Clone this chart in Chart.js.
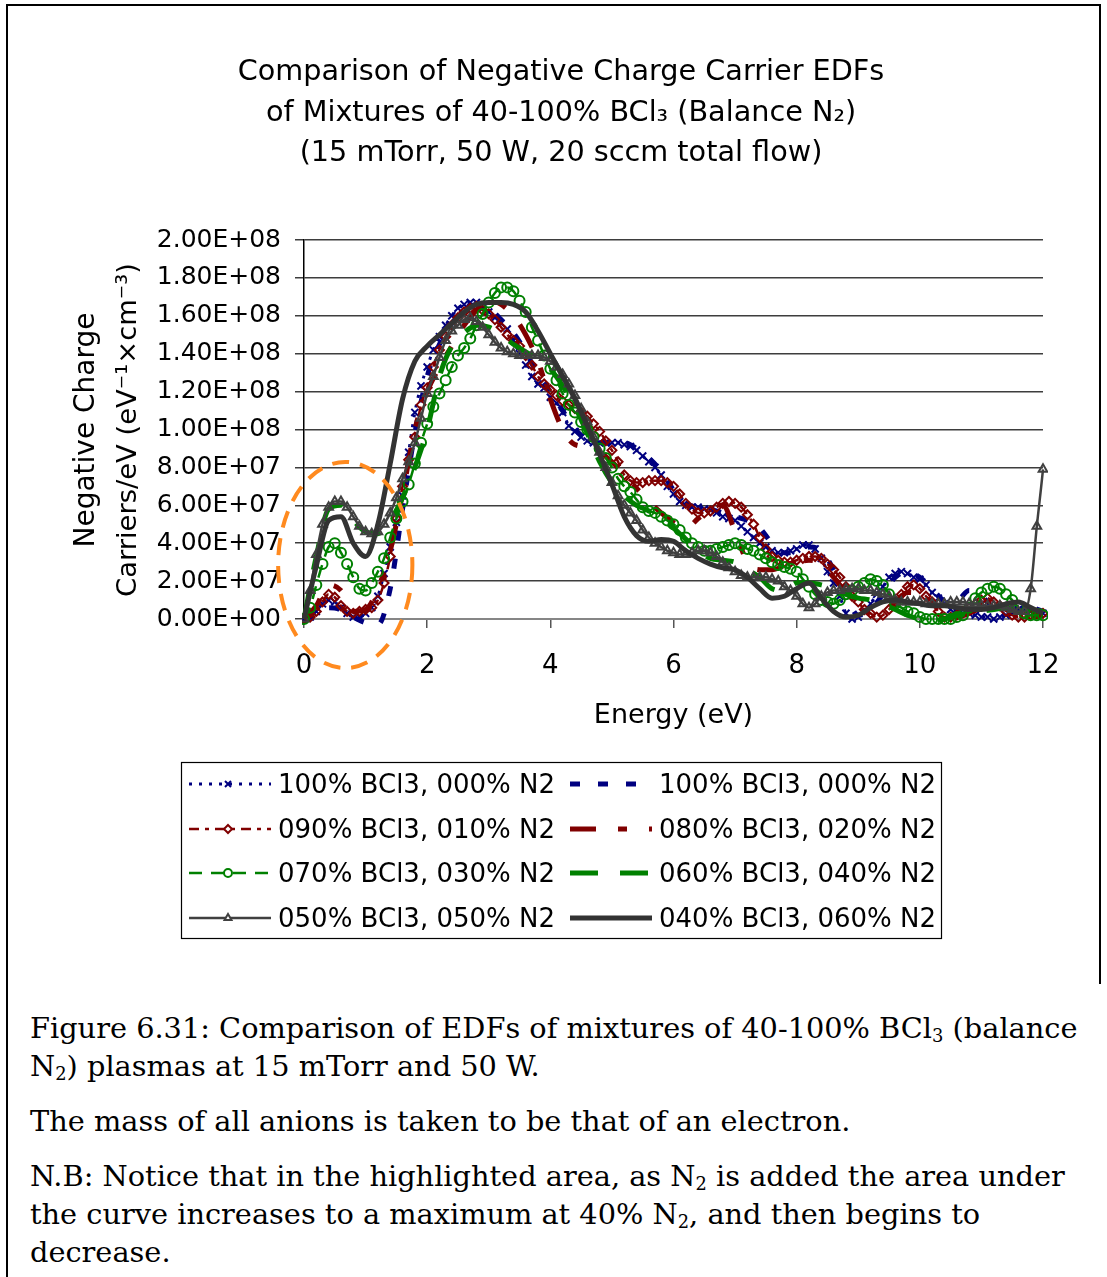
<!DOCTYPE html>
<html>
<head>
<meta charset="utf-8">
<title>EDFs of BCl3 / N2 mixtures</title>
<script src="https://cdn.jsdelivr.net/npm/chart.js@4.4.1/dist/chart.umd.min.js"></script>
<style>
  html, body { margin: 0; padding: 0; background: #fff; }
  #page { position: relative; width: 1107px; height: 1277px; overflow: hidden; background: #fff; }
  .rule { position: absolute; background: #000; }
  #edfChart { position: absolute; left: 0; top: 0; }
  #caption {
    position: absolute; left: 30px; top: 1009px;
    font-family: "DejaVu Serif", serif; font-size: 28.8px; line-height: 38px;
    color: #000; white-space: nowrap;
  }
  #caption p { margin: 0 0 17px 0; }
  #caption sub { font-size: 0.62em; vertical-align: -0.2em; line-height: 0; }
</style>
</head>
<body>
<div id="page">
  <div class="rule" style="left:6px; top:4px; width:2px; height:1273px;"></div>
  <div class="rule" style="left:6px; top:4px; width:1095px; height:2px;"></div>
  <div class="rule" style="left:1099px; top:4px; width:2px; height:980px;"></div>
  <canvas id="edfChart" width="1107" height="960"></canvas>
  <div id="caption">
    <p>Figure 6.31: Comparison of EDFs of mixtures of 40-100% BCl<sub>3</sub> (balance<br>N<sub>2</sub>) plasmas at 15 mTorr and 50 W.</p>
    <p>The mass of all anions is taken to be that of an electron.</p>
    <p>N.B: Notice that in the highlighted area, as N<sub>2</sub> is added the area under<br>the curve increases to a maximum at 40% N<sub>2</sub>, and then begins to<br>decrease.</p>
  </div>
</div>
<script>
// values are in units of 1E+07 carriers/eV (eV^-1 cm^-3)
const UNIT = 1e7;

// energy grid (eV) for the series drawn with markers
const energyFine = [
  0, 0.1, 0.2, 0.3, 0.4, 0.5, 0.6, 0.7, 0.8, 0.9,
  1, 1.1, 1.2, 1.3, 1.4, 1.5, 1.6, 1.7, 1.8, 1.9,
  2, 2.1, 2.2, 2.3, 2.4, 2.5, 2.6, 2.7, 2.8, 2.9,
  3, 3.1, 3.2, 3.3, 3.4, 3.5, 3.6, 3.7, 3.8, 3.9,
  4, 4.1, 4.2, 4.3, 4.4, 4.5, 4.6, 4.7, 4.8, 4.9,
  5, 5.1, 5.2, 5.3, 5.4, 5.5, 5.6, 5.7, 5.8, 5.9,
  6, 6.1, 6.2, 6.3, 6.4, 6.5, 6.6, 6.7, 6.8, 6.9,
  7, 7.1, 7.2, 7.3, 7.4, 7.5, 7.6, 7.7, 7.8, 7.9,
  8, 8.1, 8.2, 8.3, 8.4, 8.5, 8.6, 8.7, 8.8, 8.9,
  9, 9.1, 9.2, 9.3, 9.4, 9.5, 9.6, 9.7, 9.8, 9.9,
  10, 10.1, 10.2, 10.3, 10.4, 10.5, 10.6, 10.7, 10.8, 10.9,
  11, 11.1, 11.2, 11.3, 11.4, 11.5, 11.6, 11.7, 11.8, 11.9,
  12, 12.1
];

// energy grid (eV) for the plain line series
const energyCoarse = [
  0, 0.2, 0.4, 0.6, 0.8, 1, 1.2, 1.4, 1.6, 1.8,
  2, 2.2, 2.4, 2.6, 2.8, 3, 3.2, 3.4, 3.6, 3.8,
  4, 4.2, 4.4, 4.6, 4.8, 5, 5.2, 5.4, 5.6, 5.8,
  6, 6.2, 6.4, 6.6, 6.8, 7, 7.2, 7.4, 7.6, 7.8,
  8, 8.2, 8.4, 8.6, 8.8, 9, 9.2, 9.4, 9.6, 9.8,
  10, 10.2, 10.4, 10.6, 10.8, 11, 11.2, 11.4, 11.6, 11.8,
  12
];

// 100% BCl3 (first run, crosses)
const bcl100a = [
  0, 0.1, 0.4, 0.8, 1.0, 0.9, 0.6, 0.3, 0.1, 0.1,
  0.3, 0.6, 1.2, 2.4, 3.8, 5.1, 6.5, 8.8, 10.9, 12.3,
  13.3, 14.2, 14.9, 15.5, 16.0, 16.4, 16.6, 16.7, 16.7, 16.4,
  16.2, 15.9, 15.6, 15.3, 14.7, 14.0, 13.4, 12.8, 12.4, 12.2,
  11.7, 11.4, 10.9, 10.2, 9.9, 9.6, 9.4, 9.3, 9.3, 9.3,
  9.3, 9.3, 9.2, 9.1, 8.9, 8.6, 8.3, 8.0, 7.6, 7.0,
  6.6, 6.2, 6.0, 5.9, 5.9, 5.8, 5.75, 5.6, 5.4, 5.3,
  5.2, 4.9, 4.6, 4.3, 4.0, 3.8, 3.6, 3.5, 3.5, 3.6,
  3.7, 3.9, 3.9, 3.7, 3.2, 2.5, 1.9, 1.2, 0.3, 0.0,
  0.1, 0.4, 0.8, 1.3, 1.7, 2.2, 2.4, 2.5, 2.4, 2.2,
  2.1, 1.8, 1.4, 1.1, 0.8, 0.5, 0.4, 0.3, 0.3, 0.2,
  0.1, 0.1, 0.0, 0.1, 0.2, 0.3, 0.5, 0.5, 0.4, 0.3,
  0.3, 0.3
];

// 100% BCl3 (second run, thick dashes)
const bcl100b = [
  0, 0.2, 0.6, 0.5, 0.1, -0.2, -0.3, 1.6, 5.8, 9.8,
  12.8, 14.5, 15.6, 16.3, 16.6, 16.4, 15.8, 15.1, 14.1, 12.9,
  12.0, 11.0, 10.0, 9.5, 9.3, 9.3, 9.3, 9.0, 8.5, 7.8,
  6.8, 6.1, 5.9, 5.8, 5.6, 5.4, 5.2, 4.8, 4.0, 3.5,
  3.5, 3.8, 3.6, 2.6, 1.2, 0.2, 0.5, 1.3, 2.2, 2.5,
  2.2, 1.6, 1.0, 1.0, 1.5, 1.2, 0.6, 0.4, 0.5, 0.6,
  0.4
];

// 90% BCl3, 10% N2 (diamonds)
const bcl090 = [
  0, 0.1, 0.4, 0.9, 1.3, 1.15, 0.7, 0.4, 0.3, 0.4,
  0.5, 0.6, 1.0, 1.9, 3.3, 5.3, 7.0, 8.4, 9.6, 11.3,
  12.2, 13.3, 14.2, 14.9, 15.5, 15.9, 16.2, 16.4, 16.5, 16.3,
  16.1, 15.8, 15.4, 15.0, 14.7, 14.4, 13.9, 13.4, 12.8, 12.4,
  12.1, 11.8, 11.5, 11.3, 11.1, 10.9, 10.7, 10.3, 9.9, 9.4,
  8.9, 8.3, 7.6, 7.3, 7.2, 7.2, 7.3, 7.3, 7.3, 7.2,
  7.0, 6.6, 6.1, 5.8, 5.6, 5.6, 5.7, 5.9, 6.1, 6.2,
  6.1, 5.9, 5.5, 5.0, 4.3, 3.7, 3.3, 3.1, 3.0, 3.0,
  3.1, 3.2, 3.3, 3.3, 3.2, 2.9, 2.6, 2.2, 1.7, 1.2,
  0.9, 0.5, 0.3, 0.1, 0.2, 0.5, 0.9, 1.3, 1.7, 1.8,
  1.6, 1.2, 0.9, 0.4, 0.1, 0.1, 0.2, 0.4, 0.6, 0.8,
  1.0, 1.1, 0.9, 0.7, 0.4, 0.2, 0.1, 0.1, 0.2, 0.3,
  0.3, 0.3
];

// 80% BCl3, 20% N2
const bcl080 = [
  0, 0.7, 1.8, 1.5, 0.4, 0.5, 1.6, 3.6, 6.6, 10.0,
  12.0, 13.3, 14.4, 15.5, 16.3, 16.8, 16.6, 16.0, 15.0, 13.6,
  11.6, 10.0, 9.2, 9.1, 8.8, 8.3, 7.6, 6.9, 6.2, 5.6,
  5.1, 4.8, 5.3, 5.8, 6.0, 4.6, 3.0, 2.6, 2.6, 2.8,
  3.0, 3.1, 2.9, 2.2, 1.4, 0.7, 0.3, 0.4, 0.9, 1.4,
  1.3, 0.8, 0.3, 0.1, 0.3, 0.6, 0.8, 0.5, 0.2, 0.1,
  0.2
];

// 70% BCl3, 30% N2 (circles)
const bcl070 = [
  0, 0.6, 1.8, 2.9, 3.8, 4.0, 3.5, 2.9, 2.2, 1.6,
  1.5, 1.9, 2.5, 3.2, 4.3, 5.3, 6.2, 7.1, 8.2, 9.3,
  10.3, 11.2, 11.9, 12.6, 13.3, 13.9, 14.3, 14.8, 15.5, 16.1,
  16.7, 17.2, 17.5, 17.5, 17.3, 16.8, 16.2, 15.4, 14.7, 13.9,
  13.2, 12.6, 11.9, 11.3, 10.9, 10.4, 10.0, 9.6, 9.0, 8.5,
  8.0, 7.4, 7.0, 6.7, 6.3, 5.9, 5.7, 5.6, 5.4, 5.2,
  5.0, 4.7, 4.3, 4.0, 3.8, 3.6, 3.6, 3.7, 3.8, 3.9,
  4.0, 3.9, 3.7, 3.6, 3.4, 3.2, 3.0, 2.85, 2.75, 2.65,
  2.5, 2.1, 1.7, 1.3, 1.0, 0.9, 0.8, 1.0, 1.3, 1.5,
  1.7, 1.9, 2.1, 2.0, 1.8, 1.3, 0.8, 0.6, 0.4, 0.3,
  0.1, 0.0, 0.0, 0.0, 0.0, 0.0, 0.1, 0.2, 0.6, 1.1,
  1.4, 1.6, 1.7, 1.6, 1.3, 1.0, 0.6, 0.3, 0.2, 0.2,
  0.2, 0.2
];

// 60% BCl3, 40% N2
const bcl060 = [
  0, 3.3, 5.8, 6.0, 5.2, 4.6, 4.5, 5.2, 6.4, 8.0,
  10.0, 12.8, 14.4, 15.1, 15.5, 15.4, 15.0, 14.5, 14.1, 13.7,
  13.2, 12.3, 11.2, 9.8, 8.3, 7.2, 6.5, 6.0, 5.7, 5.3,
  4.8, 4.2, 3.6, 3.2, 3.1, 3.0, 2.6, 2.2, 1.6, 1.5,
  1.9, 1.9, 1.8, 1.6, 1.3, 1.1, 1.0, 0.8, 0.5, 0.2,
  0.0, -0.1, 0.0, 0.2, 0.3, 0.4, 0.5, 0.6, 0.6, 0.5,
  0.4
];

// 50% BCl3, 50% N2 (triangles)
const bcl050 = [
  0, 1.5, 3.4, 5.0, 5.9, 6.2, 6.2, 5.9, 5.4, 4.9,
  4.6, 4.5, 4.6, 5.0, 5.6, 6.4, 7.4, 8.3, 9.3, 10.6,
  11.9, 12.8, 13.8, 14.7, 15.2, 15.5, 15.8, 15.9, 15.7, 15.4,
  15.0, 14.6, 14.3, 14.1, 14.0, 13.9, 13.9, 13.9, 13.9, 13.8,
  13.6, 13.3, 12.9, 12.4, 11.8, 11.1, 10.4, 9.6, 8.8, 8.0,
  7.2, 6.5, 6.0, 5.6, 5.2, 4.7, 4.3, 4.0, 3.8, 3.6,
  3.5, 3.4, 3.4, 3.5, 3.6, 3.6, 3.5, 3.3, 3.0, 2.7,
  2.5, 2.3, 2.2, 2.2, 2.2, 2.2, 2.1, 2.0, 1.7, 1.5,
  1.2, 0.8, 0.6, 0.8, 1.2, 1.4, 1.5, 1.5, 1.6, 1.6,
  1.6, 1.5, 1.5, 1.4, 1.3, 1.2, 1.0, 0.9, 0.9, 0.9,
  0.9, 0.8, 0.8, 0.8, 0.8, 0.9, 0.9, 0.9, 0.8, 0.8,
  0.7, 0.7, 0.7, 0.7, 0.6, 0.5, 0.4, 0.4, 1.6, 4.9,
  7.9, 11.5
];

// 40% BCl3, 60% N2
const bcl040 = [
  0, 2.8, 5.2, 5.4, 4.0, 3.3, 5.0, 8.2, 11.6, 13.6,
  14.4, 15.0, 15.6, 16.2, 16.6, 16.7, 16.7, 16.6, 16.2, 15.2,
  14.0, 12.8, 11.6, 10.2, 8.7, 7.1, 5.4, 4.4, 4.1, 4.2,
  4.1, 3.6, 3.2, 2.9, 2.7, 2.6, 2.2, 1.6, 1.1, 1.2,
  1.6, 1.9, 1.1, 0.4, 0.1, 0.2, 0.6, 0.9, 1.0, 0.9,
  0.8, 0.7, 0.7, 0.6, 0.5, 0.5, 0.6, 0.8, 0.9, 0.6,
  0.3
];

const yTicksMax = 2e8;
const yTicksStep = 2e7;
const xTicksMax = 12;
const xTicksStep = 2;

const FONT = "'DejaVu Sans', sans-serif";

function points(xs, ys) {
  return ys.map((v, i) => ({ x: xs[i], y: v * UNIT }));
}

function sci(v) {
  // Excel style 2.00E+08
  const s = Number(v).toExponential(2).toUpperCase();
  return s.replace(/E([+-])(\d)$/, 'E$10$2');
}

const navy = '#000080', maroon = '#800000', green = '#008000';

const datasets = [
  { label: '100% BCl3, 000% N2', data: points(energyFine, bcl100a),
    borderColor: navy, borderWidth: 3, borderDash: [3, 7],
    pointStyle: 'crossRot', pointRadius: 5, pointBorderWidth: 2,
    pointBorderColor: navy, pointBackgroundColor: 'rgba(0,0,0,0)' },
  { label: '100% BCl3, 000% N2', data: points(energyCoarse, bcl100b),
    borderColor: navy, borderWidth: 5, borderDash: [10, 18], pointRadius: 0 },
  { label: '090% BCl3, 010% N2', data: points(energyFine, bcl090),
    borderColor: maroon, borderWidth: 2.5, borderDash: [10, 6, 4, 6],
    pointStyle: 'rectRot', pointRadius: 4.5, pointBorderWidth: 2,
    pointBorderColor: maroon, pointBackgroundColor: 'rgba(0,0,0,0)' },
  { label: '080% BCl3, 020% N2', data: points(energyCoarse, bcl080),
    borderColor: maroon, borderWidth: 5, borderDash: [26, 22, 9, 22], pointRadius: 0 },
  { label: '070% BCl3, 030% N2', data: points(energyFine, bcl070),
    borderColor: green, borderWidth: 2.5, borderDash: [13, 9],
    pointStyle: 'circle', pointRadius: 5, pointBorderWidth: 2,
    pointBorderColor: green, pointBackgroundColor: 'rgba(0,0,0,0)' },
  { label: '060% BCl3, 040% N2', data: points(energyCoarse, bcl060),
    borderColor: green, borderWidth: 5, borderDash: [28, 22], pointRadius: 0 },
  { label: '050% BCl3, 050% N2', data: points(energyFine, bcl050),
    borderColor: '#404040', borderWidth: 2.5,
    pointStyle: 'triangle', pointRadius: 5, pointBorderWidth: 2,
    pointBorderColor: '#404040', pointBackgroundColor: 'rgba(0,0,0,0)' },
  { label: '040% BCl3, 060% N2', data: points(energyCoarse, bcl040),
    borderColor: '#333333', borderWidth: 5, pointRadius: 0 }
];

// later series on top, like the spreadsheet
datasets.forEach((d, i) => {
  d.order = datasets.length - 1 - i;
  d.fill = false;
  d.cubicInterpolationMode = 'monotone';
  d.clip = { left: 2, right: 5, top: 2, bottom: 12 };
});

const titleLines = [
  'Comparison of Negative Charge Carrier EDFs',
  'of Mixtures of 40-100% BCl\u2083 (Balance N\u2082)',
  '(15 mTorr, 50 W, 20 sccm total flow)'
];

// highlighted region drawn by hand on the original figure
const highlight = { x: 0.67, y: 2.85e7, rx: 1.09, ry: 5.44e7 };

function drawMarker(ctx, style, x, y, r) {
  ctx.beginPath();
  if (style === 'crossRot') {
    ctx.moveTo(x - r * 0.75, y - r * 0.75); ctx.lineTo(x + r * 0.75, y + r * 0.75);
    ctx.moveTo(x + r * 0.75, y - r * 0.75); ctx.lineTo(x - r * 0.75, y + r * 0.75);
    ctx.stroke();
    return;
  }
  if (style === 'rectRot') {
    ctx.moveTo(x, y - r); ctx.lineTo(x + r, y); ctx.lineTo(x, y + r); ctx.lineTo(x - r, y);
    ctx.closePath();
  } else if (style === 'circle') {
    ctx.arc(x, y, r, 0, Math.PI * 2);
  } else if (style === 'triangle') {
    ctx.moveTo(x, y - r); ctx.lineTo(x + r * 0.87, y + r * 0.5); ctx.lineTo(x - r * 0.87, y + r * 0.5);
    ctx.closePath();
  }
  ctx.fill();
  ctx.stroke();
}

const extras = {
  id: 'extras',
  afterDatasetsDraw(chart) {
    const { ctx, scales: { x, y } } = chart;
    const cx = x.getPixelForValue(highlight.x);
    const cy = y.getPixelForValue(highlight.y);
    const rx = x.getPixelForValue(highlight.x + highlight.rx) - cx;
    const ry = cy - y.getPixelForValue(highlight.y + highlight.ry);
    ctx.save();
    ctx.strokeStyle = '#ff8a1f';
    ctx.lineWidth = 4;
    ctx.setLineDash([17, 11]);
    ctx.beginPath();
    ctx.ellipse(cx, cy, rx, ry, 0, 0, Math.PI * 2);
    ctx.stroke();
    ctx.restore();
  },
  afterDraw(chart) {
    const { ctx, chartArea } = chart;
    ctx.save();
    ctx.fillStyle = '#000';
    ctx.textAlign = 'center';
    ctx.textBaseline = 'middle';

    // title
    ctx.font = '28.7px ' + FONT;
    titleLines.forEach((t, i) => ctx.fillText(t, 561, 73 + i * 40.5));

    // axis titles
    ctx.font = '27px ' + FONT;
    ctx.fillText('Energy (eV)', (chartArea.left + chartArea.right) / 2, 716);
    ctx.save();
    ctx.translate(87, 430);
    ctx.rotate(-Math.PI / 2);
    ctx.font = '28px ' + FONT;
    ctx.fillText('Negative Charge', 0, 0);
    ctx.font = '27.4px ' + FONT;
    ctx.fillText('Carriers/eV (eV\u207B\u00B9\u00D7cm\u207B\u00B3)', 0, 42);
    ctx.restore();

    // legend
    ctx.lineWidth = 1.2;
    ctx.strokeStyle = '#000';
    ctx.strokeRect(181.5, 762.5, 760, 176);
    const rows = [784, 829, 873, 918];
    const cols = [189, 570];
    ctx.font = '26px ' + FONT;
    ctx.textAlign = 'left';
    chart.data.datasets.forEach((ds, i) => {
      const x0 = cols[i % 2], yy = rows[Math.floor(i / 2)], w = 82;
      ctx.save();
      ctx.strokeStyle = ds.borderColor;
      ctx.lineWidth = ds.borderWidth;
      ctx.setLineDash(ds.borderDash || []);
      ctx.beginPath();
      ctx.moveTo(x0, yy);
      ctx.lineTo(x0 + w, yy);
      ctx.stroke();
      if (ds.pointRadius > 0) {
        ctx.setLineDash([]);
        ctx.lineWidth = 2;
        ctx.fillStyle = '#fff';
        drawMarker(ctx, ds.pointStyle, x0 + w / 2 - 2, yy, 4);
      }
      ctx.restore();
      ctx.fillText(ds.label, x0 + 89, yy + 2);
    });
    ctx.restore();
  }
};

Chart.defaults.font.family = FONT;
Chart.defaults.color = '#000';

new Chart(document.getElementById('edfChart'), {
  type: 'line',
  data: { datasets },
  plugins: [extras],
  options: {
    responsive: false,
    animation: false,
    devicePixelRatio: 1,
    layout: { padding: { left: 0, right: 64, top: 240, bottom: 281 } },
    plugins: { legend: { display: false }, tooltip: { enabled: false }, title: { display: false } },
    scales: {
      x: {
        type: 'linear', min: 0, max: xTicksMax,
        afterFit(s) { s.height = 60; },
        ticks: { stepSize: xTicksStep, padding: 23, font: { size: 26 }, maxRotation: 0 },
        grid: { drawOnChartArea: false, drawTicks: true, tickLength: 9, color: '#555', lineWidth: 1.5 },
        border: { color: '#868686', width: 2 }
      },
      y: {
        min: 0, max: yTicksMax,
        afterFit(s) { s.width = 304; },
        ticks: { stepSize: yTicksStep, padding: 14, font: { size: 25 }, callback: v => sci(v) },
        grid: { color: '#3d3d3d', lineWidth: 1.5, drawTicks: true, tickLength: 9 },
        border: { color: '#000', width: 1.5 }
      }
    }
  }
});
</script>
</body>
</html>
